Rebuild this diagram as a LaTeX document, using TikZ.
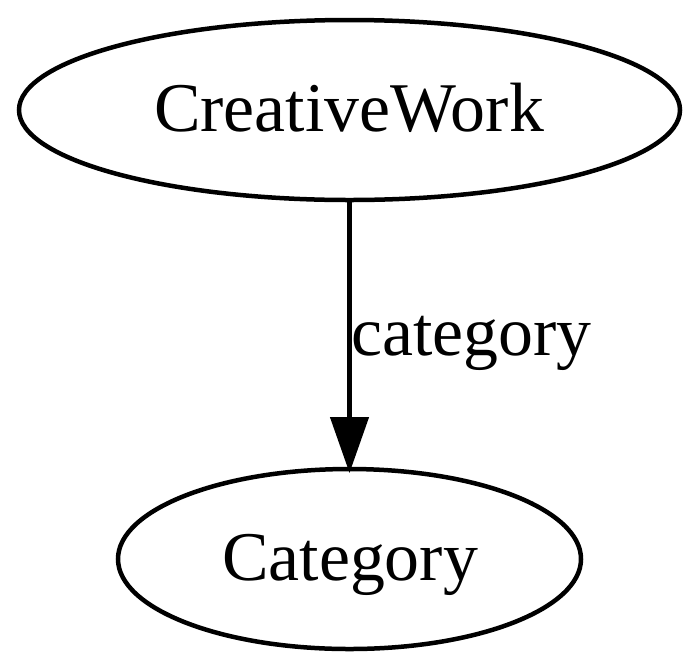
\documentclass[tikz,border=0pt]{standalone}
\usepackage{fontspec}
\setmainfont{Liberation Serif}
\usetikzlibrary{arrows.meta,shapes.geometric}
\begin{document}
\begin{tikzpicture}[x=1pt,y=-1pt,
  ell/.style={draw,line width=4.5pt},
  lbl/.style={font=\fontsize{69.8}{80}\selectfont,inner sep=0pt},
  edge/.style={line width=4.5pt,-{Triangle[length=56pt,width=38pt]}}]
\useasboundingbox (0,0) rectangle (700,670);
\draw[ell] (349.5,110) ellipse [x radius=330.5, y radius=90];
\draw[ell] (349.5,559) ellipse [x radius=231.5, y radius=90];
\node[lbl,anchor=base] (cw) at (349,131.7) {CreativeWork};
\node[lbl,anchor=base] (cat) at (350,580) {Category};
\coordinate (a) at (349.5,200);
\coordinate (b) at (349.5,473);
\draw[edge] (a) -- (b);
\node[lbl,anchor=base west] (el) at (351,355) {category};
\end{tikzpicture}
\end{document}
